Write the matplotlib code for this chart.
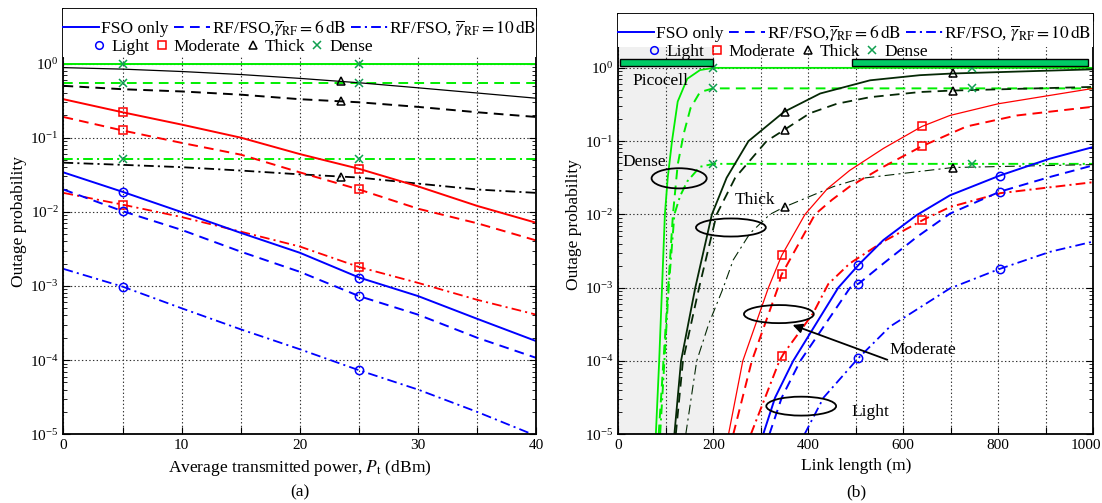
"""
Outage probability vs transmit power (a) and vs link length (b)
"""
import matplotlib
matplotlib.use('Agg')
import matplotlib.pyplot as plt
import matplotlib.transforms as mtransforms
import numpy as np
from matplotlib.patches import Ellipse, Rectangle
from matplotlib.lines import Line2D
from matplotlib.ticker import LogLocator, MultipleLocator, FuncFormatter, NullFormatter

plt.rcParams['font.family'] = ['Liberation Serif', 'DejaVu Serif']
plt.rcParams['mathtext.fontset'] = 'stix'
plt.rcParams['lines.scale_dashes'] = False

# ---------------- (a) data: outage vs Pt (dBm) ----------------
pt_dbm = [0, 5, 10, 15, 20, 25, 30, 35, 40]

a_light_fso = [0.034, 0.0186, 0.0099, 0.0052, 0.0028, 0.0013, 0.00073, 0.00036, 0.00018]
a_light_6 = [0.020, 0.0102, 0.0057, 0.0029, 0.00155, 0.00073, 0.00041, 0.0002, 0.000107]
a_light_10 = [0.0017, 0.00098, 0.0005, 0.00026, 0.00014, 7.3e-5, 4e-5, 2e-5, 9.5e-6]
a_mod_fso = [0.33, 0.22, 0.15, 0.10, 0.06, 0.038, 0.022, 0.012, 0.0071]
a_mod_6 = [0.19, 0.125, 0.085, 0.059, 0.034, 0.020, 0.011, 0.007, 0.0041]
a_mod_10 = [0.018, 0.0125, 0.0085, 0.0054, 0.0034, 0.0018, 0.0011, 0.00065, 0.00041]
a_thick_fso = [0.88, 0.84, 0.78, 0.71, 0.63, 0.55, 0.47, 0.40, 0.34]
a_thick_6 = [0.50, 0.45, 0.42, 0.38, 0.33, 0.30, 0.26, 0.22, 0.19]
a_thick_10 = [0.046, 0.043, 0.040, 0.036, 0.032, 0.029, 0.024, 0.020, 0.018]
a_dense_fso = [1.0] * 9
a_dense_6 = [0.55] * 9
a_dense_10 = [0.052] * 9

a_mark_x = [5, 25]
a_thick_mark_x = [23.5]

# ---------------- (b) data: outage vs link length (m) ----------------
# values given as log10(outage)
b_dense_fso_x = [79, 86, 92, 98, 104, 113, 125, 145, 172, 200, 1000]
b_dense_fso = [-5, -4, -3, -2, -1.5, -1, -0.46, -0.15, -0.03, 0, 0]
b_dense_6_x = [85, 95, 105, 115, 125, 138, 152, 172, 200, 1000]
b_dense_6 = [-5, -4, -3, -2, -1.32, -0.89, -0.55, -0.33, -0.28, -0.28]
b_dense_10_x = [88, 97, 106, 118, 130, 145, 172, 200, 1000]
b_dense_10 = [-5, -4, -3, -2, -1.75, -1.55, -1.35, -1.31, -1.31]

b_thick_fso_x = [118, 132, 162, 197, 228, 274, 349, 425, 530, 635, 704, 1000]
b_thick_fso = [-5, -4, -3, -2, -1.5, -1, -0.60, -0.35, -0.17, -0.10, -0.077, -0.02]
b_thick_6_x = [121, 136, 170, 207, 246, 312, 346, 403, 460, 530, 635, 702, 1000]
b_thick_6 = [-5, -4, -3, -2, -1.5, -1, -0.86, -0.62, -0.49, -0.40, -0.33, -0.31, -0.26]
b_thick_10_x = [142, 165, 190, 221, 242, 277, 319, 349, 453, 509, 600, 704, 1000]
b_thick_10 = [-5, -4, -3.5, -3, -2.62, -2.26, -2, -1.9, -1.62, -1.51, -1.44, -1.36, -1.32]

b_mod_fso_x = [232, 262, 316, 344, 393, 440, 487, 558, 639, 698, 800, 1000]
b_mod_fso = [-5, -4, -3, -2.56, -2, -1.65, -1.40, -1.10, -0.80, -0.65, -0.49, -0.28]
b_mod_6_x = [242, 281, 336, 343, 414, 450, 487, 558, 639, 733, 839, 1000]
b_mod_6 = [-5, -4, -3, -2.83, -2, -1.8, -1.62, -1.35, -1.07, -0.80, -0.65, -0.53]
b_mod_10_x = [279, 339, 348, 410, 442, 487, 558, 646, 698, 804, 1000]
b_mod_10 = [-5, -4, -3.9, -3.35, -2.95, -2.67, -2.37, -2.06, -1.9, -1.71, -1.56]

b_light_fso_x = [305, 330, 368, 463, 507, 558, 628, 698, 803, 908, 1000]
b_light_fso = [-5, -4.5, -4, -3, -2.68, -2.35, -2.01, -1.74, -1.47, -1.24, -1.08]
b_light_6_x = [318, 344, 383, 488, 507, 558, 628, 698, 803, 908, 1000]
b_light_6 = [-5, -4.5, -4, -3, -2.94, -2.67, -2.31, -1.99, -1.69, -1.49, -1.33]
b_light_10_x = [392, 432, 504, 572, 698, 800, 909, 1000]
b_light_10 = [-5, -4.5, -3.97, -3.53, -3.01, -2.75, -2.51, -2.37]

b_dense_mark_x = [200, 745]
b_thick_mark_x = [350, 704]
b_mod_mark_x = [345, 640]
b_light_mark_x = [505, 803]

# ---------------- styles ----------------
BLUE, RED, GREEN, MGREEN = '#0000ff', '#ff0000', '#00ee00', '#10a050'
LS = {'fso': '-', '6': (0, (7, 4.5)), '10': (0, (7, 3, 1.5, 3))}
MK = {'light': ('o', BLUE), 'mod': ('s', RED), 'thick': ('^', 'black'), 'dense': ('x', MGREEN)}
FS = 12.5


def curve(ax, x, y, color, kind, lw, mkey, mx):
    x = np.asarray(x, float)
    y = np.asarray(y, float)
    ax.plot(x, y, color=color, ls=LS[kind], lw=lw, zorder=2)
    m, mc = MK[mkey]
    my = 10 ** np.interp(mx, x, np.log10(y))
    ax.plot(mx, my, ls='none', marker=m, mfc='none', mec=mc, ms=6 if m != 'x' else 5.5,
            mew=1.1, zorder=3)


def style_axes(ax, xmax, xstep, xlabel_every):
    ax.set_yscale('log')
    ax.set_ylim(1e-5, 10 ** 0.735)
    ax.set_xlim(0, xmax)
    ax.xaxis.set_major_locator(MultipleLocator(xstep))
    ax.xaxis.set_major_formatter(FuncFormatter(
        lambda v, p: f"{int(round(v))}" if round(v) % xlabel_every == 0 else ""))
    ax.yaxis.set_major_locator(LogLocator(base=10, numticks=20))
    ax.yaxis.set_minor_locator(LogLocator(base=10, subs=np.arange(2, 10), numticks=20))
    ax.yaxis.set_minor_formatter(NullFormatter())
    ax.tick_params(which='both', direction='in', top=True, right=True, labelsize=11)
    ax.tick_params(which='major', length=5, width=0.8)
    ax.tick_params(which='minor', length=3, width=0.6)
    ax.set_axisbelow(True)
    ax.grid(True, which='major', ls=':', color='#333333', lw=0.8)
    for s in ax.spines.values():
        s.set_linewidth(1.3)
    ax.set_ylabel('Outage probability', fontsize=FS, labelpad=2)


def add_legend(ax, cover_from):
    ax.add_patch(Rectangle((0, cover_from), 1, 1 - cover_from, transform=ax.transAxes,
                           facecolor='white', edgecolor='none', zorder=2.6))
    lh = [Line2D([], [], color=BLUE, ls=LS[k], lw=1.4) for k in ('fso', '6', '10')]
    ll = ['FSO only', r'RF/FSO,$\overline{\gamma}_{\mathrm{RF}}=6\,\mathrm{dB}$',
          r'RF/FSO, $\overline{\gamma}_{\mathrm{RF}}=10\,\mathrm{dB}$']
    leg1 = ax.legend(lh, ll, ncol=3, loc='upper left', bbox_to_anchor=(-0.005, 0.982),
                     frameon=False, fontsize=FS, handlelength=2.1, handletextpad=0.1,
                     columnspacing=0.3, borderpad=0.1, borderaxespad=0)
    leg1.set_zorder(5)
    ax.add_artist(leg1)
    mh = [Line2D([], [], ls='none', marker=MK[k][0], mfc='none', mec=MK[k][1], ms=5.5, mew=1.1)
          for k in ('light', 'mod', 'thick', 'dense')]
    leg2 = ax.legend(mh, ['Light', 'Moderate', 'Thick', 'Dense'], ncol=4, loc='upper left',
                     bbox_to_anchor=(0.054, 0.934), frameon=False, fontsize=FS,
                     handlelength=1.0, handletextpad=0.2, columnspacing=0.2,
                     borderpad=0.1, borderaxespad=0)
    leg2.set_zorder(5)


fig = plt.figure(figsize=(11.02, 5.03), dpi=100)
ax1 = fig.add_axes([0.0576, 0.1366, 0.4292, 0.8455])
ax2 = fig.add_axes([0.5611, 0.1366, 0.4310, 0.8356])

# ---------------- panel (a) ----------------
sets_a = [
    (a_dense_fso, a_dense_6, a_dense_10, GREEN, 'dense', a_mark_x, (1.4, 1.4, 1.4)),
    (a_thick_fso, a_thick_6, a_thick_10, 'black', 'thick', a_thick_mark_x, (0.9, 1.4, 1.3)),
    (a_mod_fso, a_mod_6, a_mod_10, RED, 'mod', a_mark_x, (1.4, 1.4, 1.3)),
    (a_light_fso, a_light_6, a_light_10, BLUE, 'light', a_mark_x, (1.4, 1.4, 1.3)),
]
for fso, r6, r10, col, mk, mx, lws in sets_a:
    curve(ax1, pt_dbm, fso, col, 'fso', lws[0], mk, mx)
    curve(ax1, pt_dbm, r6, col, '6', lws[1], mk, mx)
    curve(ax1, pt_dbm, r10, col, '10', lws[2], mk, mx)

style_axes(ax1, 40, 5, 10)
ax1.set_xlabel(r'Average transmitted power, $P_{\mathrm{t}}$ (dBm)', fontsize=FS, labelpad=4)
add_legend(ax1, 0.887)

# ---------------- panel (b) ----------------
THICK_B = '#052805'
sets_b = [
    ((b_dense_fso_x, b_dense_fso), (b_dense_6_x, b_dense_6), (b_dense_10_x, b_dense_10),
     GREEN, 'dense', b_dense_mark_x, (1.3, 1.4, 1.4)),
    ((b_thick_fso_x, b_thick_fso), (b_thick_6_x, b_thick_6), (b_thick_10_x, b_thick_10),
     THICK_B, 'thick', b_thick_mark_x, (1.3, 1.3, 0.8)),
    ((b_mod_fso_x, b_mod_fso), (b_mod_6_x, b_mod_6), (b_mod_10_x, b_mod_10),
     RED, 'mod', b_mod_mark_x, (0.9, 1.4, 1.4)),
    ((b_light_fso_x, b_light_fso), (b_light_6_x, b_light_6), (b_light_10_x, b_light_10),
     BLUE, 'light', b_light_mark_x, (1.4, 1.4, 1.3)),
]
for fso, r6, r10, col, mk, mx, lws in sets_b:
    for (xx, ee), kind, lw in zip((fso, r6, r10), ('fso', '6', '10'), lws):
        curve(ax2, xx, 10 ** np.asarray(ee, float), col, kind, lw, mk, mx)

style_axes(ax2, 1000, 100, 200)
ax2.set_xlabel('Link length (m)', fontsize=FS, labelpad=4)

# picocell shading and cell bars
ax2.axvspan(0, 200, ymin=0, ymax=0.9215, facecolor='#f0f0f0', edgecolor='none', zorder=0.2)
add_legend(ax2, 0.9215)
for x0, x1 in [(4, 200), (492, 989)]:
    ax2.add_patch(Rectangle((x0, 1.05), x1 - x0, 0.25, facecolor='#00cc66',
                            edgecolor='black', lw=1.0, zorder=3.5))

# annotations (axes fraction)
tkw = dict(transform=ax2.transAxes, fontsize=FS, ha='center', va='center', zorder=6)
ax2.text(0.088, 0.840, 'Picocell', **tkw)
ax2.text(0.054, 0.648, 'Dense', **tkw)
ax2.text(0.288, 0.557, 'Thick', **tkw)
ax2.text(0.641, 0.201, 'Moderate', **tkw)
ax2.text(0.530, 0.053, 'Light', **tkw)
for cx, cy, w, h in [(0.128, 0.609, 0.116, 0.048), (0.237, 0.492, 0.147, 0.043),
                     (0.338, 0.286, 0.147, 0.043), (0.385, 0.067, 0.147, 0.045)]:
    ax2.add_patch(Ellipse((cx, cy), w, h, transform=ax2.transAxes, fill=False,
                          edgecolor='black', lw=1.3, zorder=6))
ax2.annotate('', xy=(0.3615, 0.2624), xytext=(0.5718, 0.175), xycoords='axes fraction',
             arrowprops=dict(arrowstyle='-|>', color='black', lw=1.3, mutation_scale=14),
             zorder=6)

# keep the last tick label inside the figure, as in the original
fig.canvas.draw()
for lab in ax2.get_xticklabels():
    if lab.get_text() == '1000':
        lab.set_transform(lab.get_transform() +
                          mtransforms.ScaledTranslation(-7 / 100, 0, fig.dpi_scale_trans))

fig.text(0.2722, 0.022, '(a)', fontsize=FS, ha='center', va='center')
fig.text(0.7766, 0.022, '(b)', fontsize=FS, ha='center', va='center')

fig.savefig('out.png', dpi=100)
